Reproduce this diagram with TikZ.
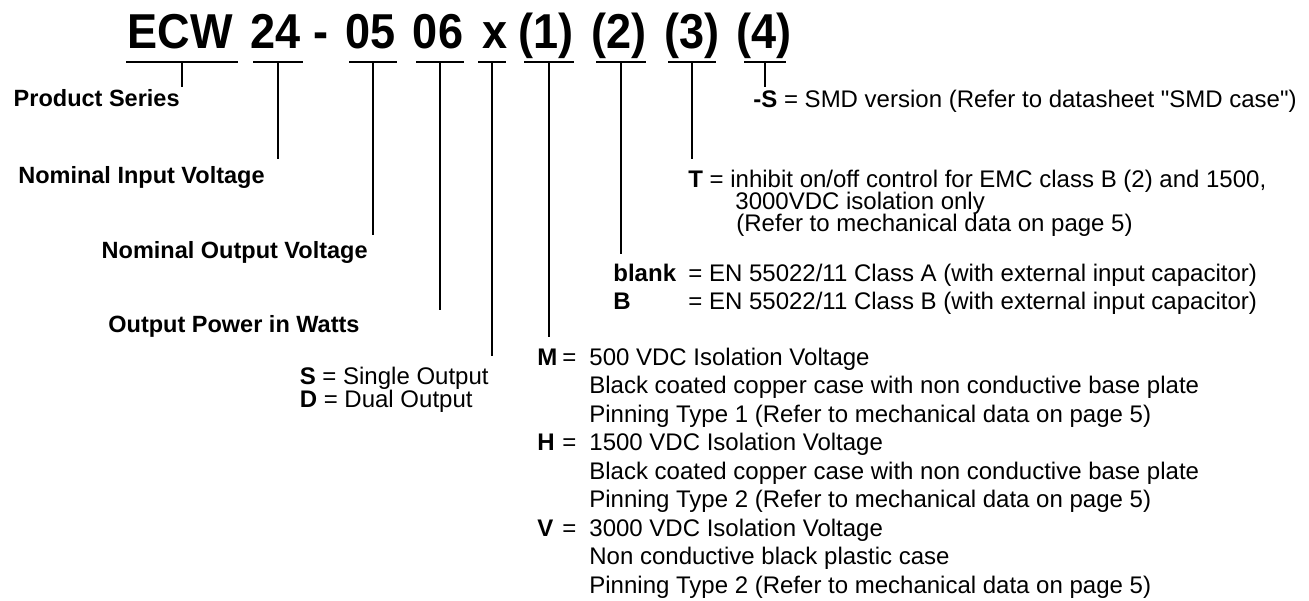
\documentclass[tikz,border=0pt]{standalone}
\usepackage{fontspec}
\setmainfont{Liberation Sans}
\newfontfamily\codefont[FakeStretch=0.92]{Liberation Sans}
\newfontfamily\plainfont{Liberation Sans}
\usetikzlibrary{positioning}
\begin{document}
\begin{tikzpicture}[x=0.5pt, y=-0.5pt,
    part/.style={font=\codefont\fontsize{24.5}{29}\selectfont\bfseries, anchor=base, inner sep=0pt},
    lbl/.style={font=\fontsize{11.75}{14}\selectfont\bfseries, inner sep=0pt},
    txt/.style={font=\fontsize{12}{14}\selectfont, anchor=base west, inner sep=0pt},
    lead/.style={line width=1pt}]
  \useasboundingbox (0,0) rectangle (1309,600);
  % order code
  \foreach \n/\t/\x in {ecw/ECW/180, vin/24/276, dash/-/321, vout/05/371, pwr/06/438,
                        out/x/495, iso/(1)/546, emc/(2)/619, ctl/(3)/692, smd/(4)/764} {
    \node[part] (\n) at (\x,48) {\t};
  }
  % underlines and leaders
  \foreach \n/\x/\w/\y in {ecw/182/56/87, vin/278/25/159, vout/373/24/235, pwr/440/24/310,
                           out/492/14/356, iso/549/25/337, emc/621/25/254, ctl/692/24/159, smd/765/21/87} {
    \coordinate (\n-top) at (\x,62);
    \coordinate (\n-end) at (\x,\y);
    \draw[lead] (\n-top) ++(-\w,0) -- ++(2*\w,0);
    \draw[lead] (\n-top) -- (\n-end);
  }
  \node[lbl, anchor=base east] (series) at (180,106) {Product Series};
  \node[lbl, anchor=base east] (vinlbl) at (265,183) {Nominal Input Voltage};
  \node[lbl, anchor=base east] (voutlbl) at (368,258) {Nominal Output Voltage};
  \node[lbl, anchor=base west] (pwrlbl) at (108,332) {Output Power in Watts};
  \node[txt, anchor=base east] (single) at (489,384) {\textbf{S} = Single Output};
  \node[txt] (dual) at (single.base west) [yshift=-11.5pt] {\textbf{D} = Dual Output};
  % options (4), (3), (2)
  \node[txt] (smdlbl) at (753,107) {\textbf{-S} = SMD version (Refer to datasheet {\plainfont"SMD case"})};
  \node[txt] (ctl1) at (688,187) {\textbf{T} = inhibit on/off control for EMC class B (2) and 1500,};
  \node[txt] (ctl2) at (735,209) {3000VDC isolation only};
  \node[txt] (ctl3) at (736,231) {(Refer to mechanical data on page 5)};
  \node[txt] (blank) at (613,281) {\textbf{blank}};
  \node[txt] (blankA) at (688,281) {= EN 55022/11 Class A (with external input capacitor)};
  \node[txt] (clsB) at (613,309) {\textbf{B}};
  \node[txt] (clsBB) at (688,309) {= EN 55022/11 Class B (with external input capacitor)};
  % option (1)
  \foreach \k/\i in {M/0, H/3, V/6} {
    \node[txt] (key\k) at (537,365+28.5*\i) {\textbf{\k}};
    \node[txt] (eq\k) at (562,365+28.5*\i) {=};
  }
  \foreach \i/\t in {0/500 VDC Isolation Voltage,
                     1/Black coated copper case with non conductive base plate,
                     2/Pinning Type 1 (Refer to mechanical data on page 5),
                     3/1500 VDC Isolation Voltage,
                     4/Black coated copper case with non conductive base plate,
                     5/Pinning Type 2 (Refer to mechanical data on page 5),
                     6/3000 VDC Isolation Voltage,
                     7/Non conductive black plastic case,
                     8/Pinning Type 2 (Refer to mechanical data on page 5)} {
    \node[txt] (iso\i) at (589,365+28.5*\i) {\t};
  }
\end{tikzpicture}
\end{document}
